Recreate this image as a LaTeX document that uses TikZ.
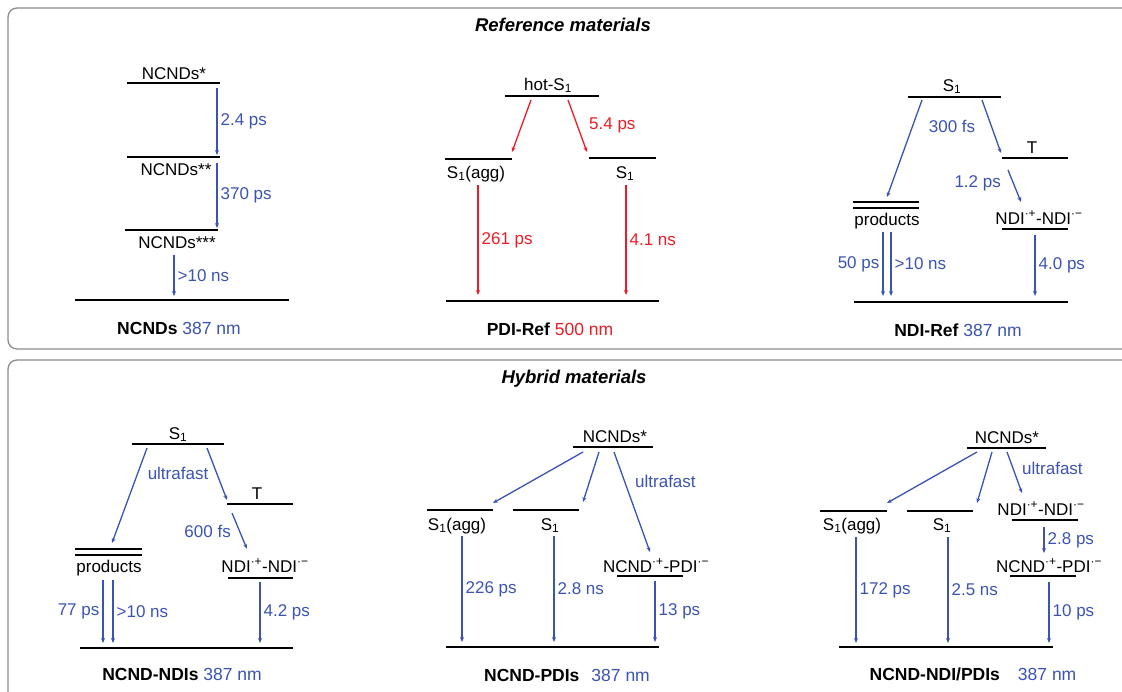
\documentclass[tikz,border=0pt]{standalone}
\usepackage{fontspec}
\setmainfont{Liberation Sans}
\usetikzlibrary{arrows.meta}
\definecolor{kblue}{RGB}{59,83,178}
\definecolor{kred}{RGB}{237,28,36}
\definecolor{kgray}{RGB}{140,140,140}

\begin{document}
\begin{tikzpicture}[x=1pt,y=-1pt,
  every node/.style={font=\fontsize{17}{20}\selectfont, inner sep=0pt},
  lvl/.style={line width=2.5pt},
  barr/.style={kblue, line width=1.3pt, -{Stealth[length=5pt,width=4pt]}},
  rarr/.style={barr, kred},
  lbl/.style={anchor=base},
  bl/.style={inner sep=3pt, text=kblue},
  rl/.style={inner sep=3pt, text=kred},
  head/.style={anchor=base, font=\fontsize{18.5}{21}\selectfont\bfseries\itshape},
  frm/.style={kgray, line width=1.3pt, rounded corners=9pt}]
\tikzset{ttl/.style={anchor=base, font=\fontsize{17.5}{20}\selectfont}}
\useasboundingbox (0,0) rectangle (1122,691);
\clip (0,0) rectangle (1122,691);

% frames
\draw[frm] (1135,8) -- (8,8) -- (8,349) -- (1135,349);
\draw[frm] (1135,360) -- (8,360) -- (8,705);
\node[head] (hRef) at (563,31) {Reference materials};
\node[head] (hHyb) at (574,383) {Hybrid materials};

% NCNDs
\draw[lvl] (127,83) -- (220,83);
\draw[lvl] (127,157) -- (220,157);
\draw[lvl] (125,230) -- (218,230);
\draw[lvl] (75,300) -- (289,300);
\node[lbl] (ncA) at (174,79) {NCNDs*};
\node[lbl] (ncB) at (176,175) {NCNDs**};
\node[lbl] (ncC) at (177,248) {NCNDs***};
\coordinate (ncA1) at (217,88);  \coordinate (ncA2) at (217,155);
\coordinate (ncB1) at (217,163); \coordinate (ncB2) at (217,228);
\coordinate (ncC1) at (174,255); \coordinate (ncC2) at (174,296);
\draw[barr] (ncA1) -- node[bl,right] (ncT1) {2.4 ps} (ncA2);
\draw[barr] (ncB1) -- node[bl,right] (ncT2) {370 ps} (ncB2);
\draw[barr] (ncC1) -- node[bl,right] (ncT3) {>10 ns} (ncC2);
\node[ttl] (ncTtl) at (179,334) {\textbf{NCNDs} \textcolor{kblue}{387 nm}};

% PDI-Ref
\draw[lvl] (505,96) -- (599,96);
\draw[lvl] (445,159) -- (512,159);
\draw[lvl] (589,158) -- (656,158);
\draw[lvl] (446,301) -- (659,301);
\node[lbl] (pdHot) at (548,90) {hot-S\textsubscript{1}};
\node[lbl] (pdAgg) at (476,178) {S\textsubscript{1}(agg)};
\node[lbl] (pdS) at (625,178) {S\textsubscript{1}};
\coordinate (pdH1) at (531,100); \coordinate (pdH2) at (568,100);
\coordinate (pdA0) at (512,152); \coordinate (pdS0) at (587,152);
\coordinate (pdA1) at (478,185); \coordinate (pdA2) at (478,295);
\coordinate (pdS1) at (626,185); \coordinate (pdS2) at (626,295);
\draw[rarr] (pdH1) -- (pdA0);
\draw[rarr] (pdH2) -- (pdS0);
\node[rl,anchor=west] (pdT0) at (586,125) {5.4 ps};
\draw[rarr] (pdA1) -- node[rl,right] (pdT1) {261 ps} (pdA2);
\draw[rarr] (pdS1) -- node[rl,right] (pdT2) {4.1 ns} (pdS2);
\node[ttl] (pdTtl) at (550,335) {\textbf{PDI-Ref} \textcolor{kred}{500 nm}};

% NDI-Ref
\draw[lvl] (908,97) -- (1001,97);
\draw[lvl] (1002,158) -- (1068,158);
\draw[lvl] (853,202) -- (919,202);
\draw[lvl] (853,208) -- (919,208);
\draw[lvl] (1002,229) -- (1068,229);
\draw[lvl] (854,302) -- (1068,302);
\node[lbl] (ndS) at (952,91) {S\textsubscript{1}};
\node[lbl] (ndT) at (1032,153) {T};
\node[lbl] (ndP) at (887,225) {products};
\node[lbl] (ndR) at (1039,224) {NDI\textsuperscript{·+}-NDI\textsuperscript{·−}};
\coordinate (ndS1) at (922,100);  \coordinate (ndP0) at (887,197);
\coordinate (ndS2) at (982,100);  \coordinate (ndT0) at (1001,153);
\coordinate (ndT1) at (1008,170); \coordinate (ndR0) at (1021,202);
\coordinate (ndP1) at (883,232);  \coordinate (ndP2) at (883,296);
\coordinate (ndP3) at (891,232);  \coordinate (ndP4) at (891,296);
\coordinate (ndR1) at (1035,235); \coordinate (ndR2) at (1035,296);
\draw[barr] (ndS1) -- (ndP0);
\draw[barr] (ndS2) -- (ndT0);
\node[bl] (ndL0) at (952,126) {300 fs};
\draw[barr] (ndT1) -- (ndR0);
\node[bl,anchor=east] (ndL1) at (1004,183) {1.2 ps};
\draw[barr] (ndP1) -- node[bl,left] (ndL2) {50 ps} (ndP2);
\draw[barr] (ndP3) -- node[bl,right] (ndL3) {>10 ns} (ndP4);
\draw[barr] (ndR1) -- node[bl,right] (ndL4) {4.0 ps} (ndR2);
\node[ttl] (ndTtl) at (958,336) {\textbf{NDI-Ref} \textcolor{kblue}{387 nm}};

% NCND-NDIs
\draw[lvl] (132,444) -- (224,444);
\draw[lvl] (227,504) -- (293,504);
\draw[lvl] (75,549) -- (142,549);
\draw[lvl] (75,555) -- (142,555);
\draw[lvl] (228,578) -- (293,578);
\draw[lvl] (80,648) -- (293,648);
\node[lbl] (hnS) at (178,439) {S\textsubscript{1}};
\node[lbl] (hnT) at (257,499) {T};
\node[lbl] (hnP) at (109,572) {products};
\node[lbl] (hnR) at (265,572) {NDI\textsuperscript{·+}-NDI\textsuperscript{·−}};
\coordinate (hnS1) at (147,448); \coordinate (hnP0) at (112,543);
\coordinate (hnS2) at (207,448); \coordinate (hnT0) at (227,500);
\coordinate (hnT1) at (232,513); \coordinate (hnR0) at (247,549);
\coordinate (hnP1) at (103,580); \coordinate (hnP2) at (103,643);
\coordinate (hnP3) at (113,580); \coordinate (hnP4) at (113,643);
\coordinate (hnR1) at (260,582); \coordinate (hnR2) at (260,643);
\draw[barr] (hnS1) -- (hnP0);
\draw[barr] (hnS2) -- (hnT0);
\node[bl] (hnL0) at (178,473) {ultrafast};
\draw[barr] (hnT1) -- (hnR0);
\node[bl,anchor=east] (hnL1) at (234,531) {600 fs};
\draw[barr] (hnP1) -- node[bl,left] (hnL2) {77 ps} (hnP2);
\draw[barr] (hnP3) -- node[bl,right] (hnL3) {>10 ns} (hnP4);
\draw[barr] (hnR1) -- node[bl,right] (hnL4) {4.2 ps} (hnR2);
\node[ttl] (hnTtl) at (182,680) {\textbf{NCND-NDIs} \textcolor{kblue}{387 nm}};

% NCND-PDIs
\draw[lvl] (573,447) -- (653,447);
\draw[lvl] (427,510) -- (493,510);
\draw[lvl] (513,510) -- (579,510);
\draw[lvl] (617,576) -- (683,576);
\draw[lvl] (446,647) -- (659,647);
\node[lbl] (hpN) at (615,442) {NCNDs*};
\node[lbl] (hpA) at (457,530) {S\textsubscript{1}(agg)};
\node[lbl] (hpS) at (550,530) {S\textsubscript{1}};
\node[lbl] (hpR) at (656,572) {NCND\textsuperscript{·+}-PDI\textsuperscript{·−}};
\coordinate (hpN1) at (583,452); \coordinate (hpA0) at (493,503);
\coordinate (hpN2) at (599,452); \coordinate (hpS0) at (583,502);
\coordinate (hpN3) at (614,452); \coordinate (hpR0) at (650,552);
\coordinate (hpA1) at (462,536); \coordinate (hpA2) at (462,642);
\coordinate (hpS1) at (554,536); \coordinate (hpS2) at (554,642);
\coordinate (hpR1) at (655,581); \coordinate (hpR2) at (655,642);
\draw[barr] (hpN1) -- (hpA0);
\draw[barr] (hpN2) -- (hpS0);
\draw[barr] (hpN3) -- (hpR0);
\node[bl,anchor=west] (hpL0) at (632,481) {ultrafast};
\draw[barr] (hpA1) -- node[bl,right] (hpL1) {226 ps} (hpA2);
\draw[barr] (hpS1) -- node[bl,right] (hpL2) {2.8 ns} (hpS2);
\draw[barr] (hpR1) -- node[bl,right] (hpL3) {13 ps} (hpR2);
\node[ttl] (hpTtl) at (567,681) {\textbf{NCND-PDIs}\hspace{12pt}\textcolor{kblue}{387 nm}};

% NCND-NDI/PDIs
\draw[lvl] (967,448) -- (1046,448);
\draw[lvl] (820,511) -- (887,511);
\draw[lvl] (907,511) -- (973,511);
\draw[lvl] (1012,520) -- (1078,520);
\draw[lvl] (1010,576) -- (1076,576);
\draw[lvl] (839,647) -- (1053,647);
\node[lbl] (hbN) at (1007,443) {NCNDs*};
\node[lbl] (hbA) at (852,530) {S\textsubscript{1}(agg)};
\node[lbl] (hbS) at (942,530) {S\textsubscript{1}};
\node[lbl] (hbR) at (1041,515) {NDI\textsuperscript{·+}-NDI\textsuperscript{·−}};
\node[lbl] (hbQ) at (1049,572) {NCND\textsuperscript{·+}-PDI\textsuperscript{·−}};
\coordinate (hbN1) at (977,452);  \coordinate (hbA0) at (887,503);
\coordinate (hbN2) at (992,452);  \coordinate (hbS0) at (977,503);
\coordinate (hbN3) at (1007,452); \coordinate (hbR0) at (1022,493);
\coordinate (hbR1) at (1044,527); \coordinate (hbR2) at (1044,553);
\coordinate (hbA1) at (856,537);  \coordinate (hbA2) at (856,643);
\coordinate (hbS1) at (948,537);  \coordinate (hbS2) at (948,643);
\coordinate (hbQ1) at (1049,582); \coordinate (hbQ2) at (1049,643);
\draw[barr] (hbN1) -- (hbA0);
\draw[barr] (hbN2) -- (hbS0);
\draw[barr] (hbN3) -- (hbR0);
\node[bl,anchor=west] (hbL0) at (1019,468) {ultrafast};
\draw[barr] (hbR1) -- node[bl,right] (hbL1) {2.8 ps} (hbR2);
\draw[barr] (hbA1) -- node[bl,right] (hbL2) {172 ps} (hbA2);
\draw[barr] (hbS1) -- node[bl,right] (hbL3) {2.5 ns} (hbS2);
\draw[barr] (hbQ1) -- node[bl,right] (hbL4) {10 ps} (hbQ2);
\node[ttl] (hbTtl) at (973,680) {\textbf{NCND-NDI/PDIs}\hspace{18pt}\textcolor{kblue}{387 nm}};
\end{tikzpicture}
\end{document}
